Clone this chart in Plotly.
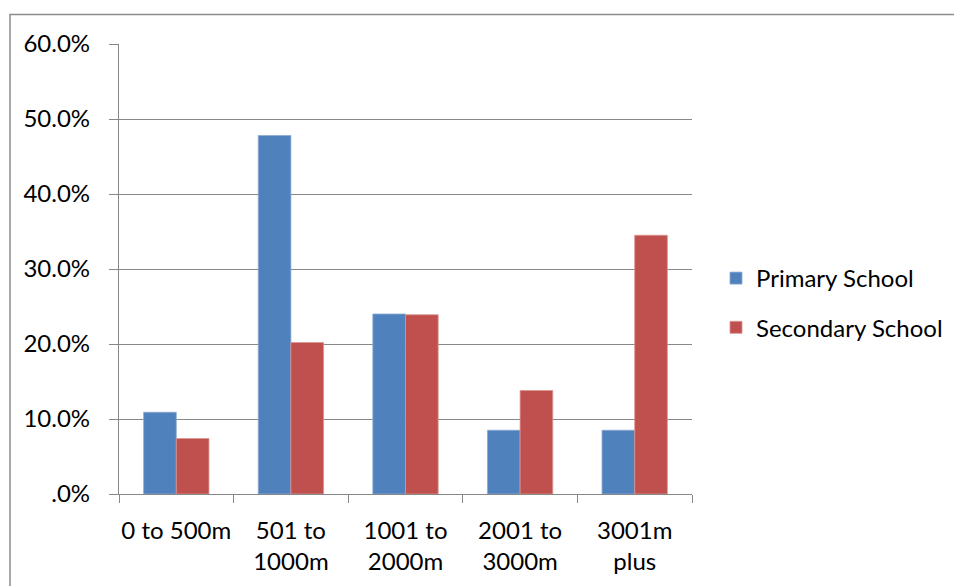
import plotly.graph_objects as go

categories = ["0 to 500m", "501 to<br>1000m", "1001 to<br>2000m", "2001 to<br>3000m", "3001m<br>plus"]
primary = [10.9, 47.8, 24.0, 8.5, 8.5]
secondary = [7.4, 20.2, 23.9, 13.8, 34.5]
series_names = ["Primary School", "Secondary School"]
y_tickvals = [0, 10, 20, 30, 40, 50, 60]
y_ticktext = [".0%", "10.0%", "20.0%", "30.0%", "40.0%", "50.0%", "60.0%"]

FONT = "Lato"
FS = 24
GRID = "#878787"

fig = go.Figure()
fig.add_trace(go.Bar(x=categories, y=primary, name=series_names[0],
                     marker=dict(color="#4F81BD", line=dict(color="#8DAAD3", width=0.8)),
                     legendgroup="a"))
fig.add_trace(go.Bar(x=categories, y=secondary, name=series_names[1],
                     marker=dict(color="#C0504D", line=dict(color="#DA9492", width=0.8)),
                     legendgroup="b"))

# page body has an 8px margin, so figure coordinates are screen - 8
OFF = 8
W, H = 962 - OFF, 586 - OFF
L, T = 119 - OFF, 44 - OFF
R = W - (692 - OFF)
B = H - (494 - OFF)
pw, ph = W - L - R, H - T - B

def px_to_paper_x(px):
    return (px - OFF - L) / pw

def px_to_paper_y(py):
    return (H - B - (py - OFF)) / ph

fig.add_shape(type="rect", xref="paper", yref="paper",
              x0=px_to_paper_x(10), x1=px_to_paper_x(980),
              y0=px_to_paper_y(600), y1=px_to_paper_y(14.5),
              line=dict(color="#8C8C8C", width=1.5), fillcolor="rgba(0,0,0,0)", layer="below")

fig.update_layout(
    width=W, height=H,
    margin=dict(l=L, r=R, t=T, b=B, pad=0, autoexpand=False),
    paper_bgcolor="white", plot_bgcolor="white",
    barmode="group", bargap=0.43, bargroupgap=0,
    font=dict(family=FONT, size=FS, color="black"),
    showlegend=True,
    legend=dict(x=px_to_paper_x(716), y=px_to_paper_y(256), xanchor="left", yanchor="top",
                traceorder="grouped", tracegroupgap=15, font=dict(size=FS, family=FONT),
                bgcolor="rgba(0,0,0,0)", itemwidth=30),
    xaxis=dict(showline=True, linecolor=GRID, linewidth=1.3, ticks="outside", ticklen=8,
               tickcolor=GRID, tickwidth=1.3, tickson="boundaries", showgrid=False,
               tickangle=0, automargin=False,
               ticklabelstandoff=15, tickfont=dict(size=FS, family=FONT)),
    yaxis=dict(range=[0, 60], tickvals=y_tickvals, ticktext=y_ticktext,
               showline=True, linecolor=GRID, linewidth=1.3, ticks="outside", ticklen=9,
               tickcolor=GRID, tickwidth=1.3, showgrid=True, gridcolor=GRID, gridwidth=1.3,
               automargin=False,
               zeroline=False, ticklabelstandoff=14, tickfont=dict(size=FS, family=FONT)),
)

fig.write_html("out.html")
